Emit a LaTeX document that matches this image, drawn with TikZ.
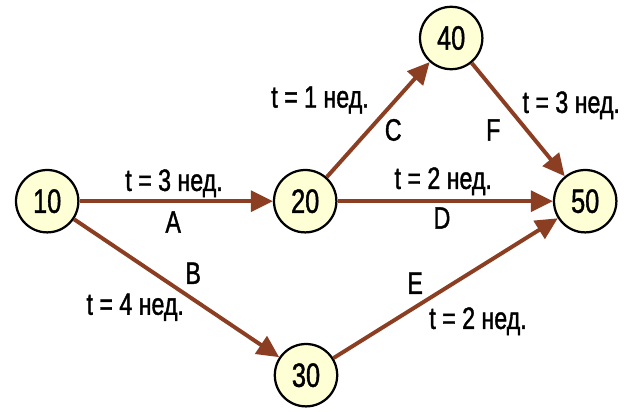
\documentclass[tikz,border=0pt]{standalone}
\usepackage{fontspec}
\setmainfont{Liberation Sans}[FakeStretch=0.75,FakeBold=1.2]
\usetikzlibrary{arrows.meta}

\definecolor{edgebrown}{RGB}{139,62,34}
\definecolor{eventfill}{RGB}{255,255,214}

\begin{document}
\begin{tikzpicture}[
  event/.style={circle,draw=black,line width=1.6pt,fill=eventfill,minimum size=1.56cm,inner sep=0pt,font=\fontsize{24}{26}\selectfont},
  work/.style={draw=edgebrown,line width=2.8pt,-{Triangle[length=5.5mm,width=5.2mm]}},
  lbl/.style={font=\fontsize{22}{24}\selectfont,inner sep=0pt}
]
  \useasboundingbox (0,0) rectangle (15.65,-10.275);
  % events
  \node[event] (e10) at (1.18,-5.03) {10};
  \node[event] (e20) at (7.63,-5.03) {20};
  \node[event] (e30) at (7.65,-9.38) {30};
  \node[event] (e40) at (11.28,-0.95) {40};
  \node[event] (e50) at (14.63,-5.03) {50};
  % works
  \draw[work] (e10) -- (e20);
  \draw[work] (e10) -- (e30);
  \draw[work] (e20) -- (e40);
  \draw[work] (e20) -- (e50);
  \draw[work] (e30) -- (e50);
  \draw[work] (e40) -- (e50);
  % labels
  \node[lbl] (tA) at (4.35,-4.58) {t = 3 нед.};
  \node[lbl] (wA) at (4.33,-5.55) {A};
  \node[lbl] (tB) at (3.38,-7.68) {t = 4 нед.};
  \node[lbl] (wB) at (4.83,-6.83) {B};
  \node[lbl] (tC) at (8.00,-2.50) {t = 1 нед.};
  \node[lbl] (wC) at (9.83,-3.25) {C};
  \node[lbl] (tD) at (11.08,-4.53) {t = 2 нед.};
  \node[lbl] (wD) at (11.05,-5.45) {D};
  \node[lbl] (tE) at (11.95,-8.03) {t = 2 нед.};
  \node[lbl] (wE) at (10.38,-7.08) {E};
  \node[lbl] (tF) at (14.28,-2.63) {t = 3 нед.};
  \node[lbl] (wF) at (12.33,-3.25) {F};
\end{tikzpicture}
\end{document}
